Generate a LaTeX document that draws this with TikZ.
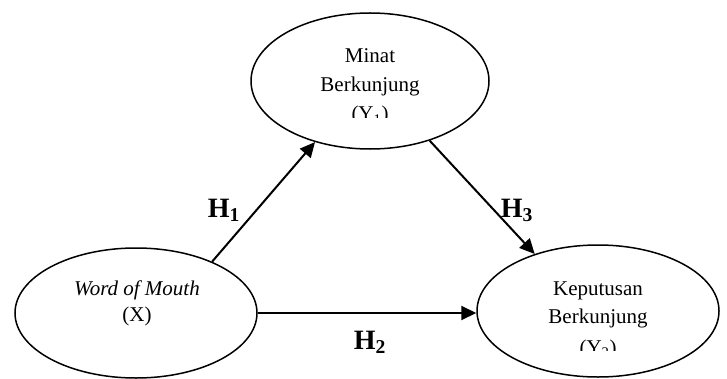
\documentclass[tikz,border=0pt]{standalone}
\usepackage{fontspec}
\setmainfont{Liberation Serif}
\usetikzlibrary{shapes.geometric,arrows.meta}
\begin{document}
\begin{tikzpicture}[x=1pt,y=1pt,
  construct/.style={ellipse,draw,line width=1.5pt,inner sep=0pt},
  link/.style={line width=2pt,-{Triangle[length=15pt,width=14pt]}},
  caption/.style={font=\fontsize{21}{25}\selectfont,anchor=base,inner sep=0pt},
  hyp/.style={font=\bfseries\fontsize{28}{32}\selectfont,anchor=base,inner sep=0pt}]
\useasboundingbox (0,0) rectangle (727,378);

% the three constructs
\node[construct,minimum width=238pt,minimum height=136pt] (y1) at (370,297) {};
\node[construct,minimum width=242pt,minimum height=130pt] (x)  at (136,65) {};
\node[construct,minimum width=242pt,minimum height=132pt] (y2) at (598,67) {};

% texts of the constructs (the last lines are cut by their text boxes)
\node[caption] (y1a) at (370,315) {Minat};
\node[caption] (y1b) at (370,286) {Berkunjung};
\begin{scope}
  \clip (250,260) rectangle (490,330);
  \node[caption] (y1c) at (370,257) {(Y\textsubscript{1})};
\end{scope}

\node[caption] (xa) at (137,83) {\itshape Word of Mouth};
\node[caption] (xb) at (137,57) {(X)};

\node[caption] (y2a) at (598,83) {Keputusan};
\node[caption] (y2b) at (598,55) {Berkunjung};
\begin{scope}
  \clip (480,28) rectangle (720,60);
  \node[caption] (y2c) at (598,24) {(Y\textsubscript{2})};
\end{scope}

% hypothesised paths
\draw[link] (x.34) -- (y1.228);
\draw[link] (y1.-45.5) -- (y2.138);
\draw[link] (x.east) -- (x.east -| y2.west);

% hypothesis labels
\node[hyp] (h1) at (224,161) {H\textsubscript{1}};
\node[hyp] (h3) at (517,161) {H\textsubscript{3}};
\node[hyp] (h2) at (370,29) {H\textsubscript{2}};
\end{tikzpicture}
\end{document}
